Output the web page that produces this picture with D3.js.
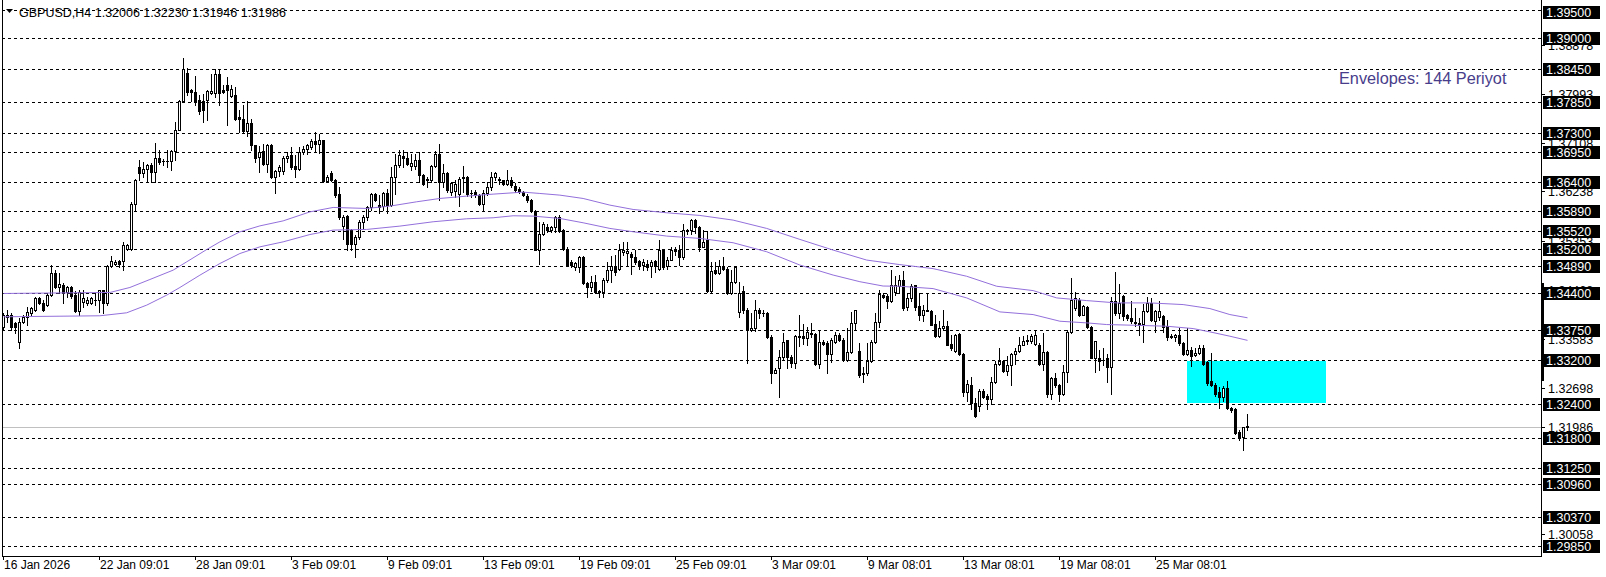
<!DOCTYPE html>
<html><head><meta charset="utf-8">
<script src="https://cdn.jsdelivr.net/npm/d3@7"></script>
<style>
body{margin:0;background:#fff;overflow:hidden}
svg{display:block}
text{font-family:"Liberation Sans",Arial,sans-serif;font-size:12.5px}
</style></head>
<body><svg id="c" width="1606" height="577"></svg>
<script>
// ---------- DATA ----------
const symbolTitle = "GBPUSD,H4";
const opens = [
1.3380,1.3398,1.3402,1.3386,1.3353,1.3389,1.3398,1.3404,1.3411,1.3431,
1.3423,1.3419,1.3437,1.3477,1.3452,1.3455,1.3443,1.3451,1.3437,1.3409,
1.3425,1.3423,1.3423,1.3429,1.3428,1.3446,1.3422,1.3489,1.3494,1.3498,
1.3499,1.3521,1.3520,1.3602,1.3668,1.3657,1.3665,1.3671,1.3659,1.3685,
1.3678,1.3679,1.3679,1.3697,1.3735,1.3787,1.3838,1.3806,1.3803,1.3788,
1.3787,1.3788,1.3802,1.3801,1.3836,1.3806,1.3815,1.3796,1.3797,1.3758,
1.3755,1.3733,1.3747,1.3707,1.3686,1.3696,1.3674,1.3707,1.3650,1.3660,
1.3661,1.3685,1.3689,1.3669,1.3665,1.3695,1.3700,1.3704,1.3714,1.3710,
1.3716,1.3643,1.3657,1.3645,1.3619,1.3561,1.3579,1.3554,1.3530,1.3541,
1.3569,1.3577,1.3595,1.3619,1.3599,1.3597,1.3621,1.3599,1.3649,1.3671,
1.3688,1.3685,1.3669,1.3669,1.3681,1.3653,1.3646,1.3644,1.3669,1.3692,
1.3641,1.3657,1.3623,1.3625,1.3619,1.3648,1.3649,1.3621,1.3623,1.3617,
1.3602,1.3621,1.3631,1.3649,1.3647,1.3644,1.3638,1.3644,1.3633,1.3629,
1.3623,1.3615,1.3609,1.3589,1.3519,1.3548,1.3559,1.3554,1.3559,1.3577,
1.3554,1.3521,1.3497,1.3488,1.3488,1.3506,1.3459,1.3451,1.3461,1.3445,
1.3443,1.3464,1.3482,1.3489,1.3485,1.3515,1.3513,1.3511,1.3506,1.3499,
1.3491,1.3493,1.3489,1.3499,1.3485,1.3518,1.3489,1.3501,1.3519,1.3518,
1.3505,1.3554,1.3555,1.3573,1.3560,1.3524,1.3536,1.3445,1.3482,1.3477,
1.3489,1.3485,1.3441,1.3461,1.3407,1.3445,1.3410,1.3375,1.3378,1.3411,
1.3404,1.3404,1.3362,1.3297,1.3305,1.3326,1.3356,1.3325,1.3315,1.3362,
1.3363,1.3359,1.3367,1.3367,1.3313,1.3353,1.3350,1.3331,1.3353,1.3365,
1.3357,1.3320,1.3335,1.3387,1.3337,1.3297,1.3296,1.3319,1.3353,1.3389,
1.3437,1.3435,1.3427,1.3443,1.3453,1.3464,1.3415,1.3432,1.3455,1.3417,
1.3402,1.3411,1.3409,1.3385,1.3363,1.3377,1.3381,1.3349,1.3336,1.3367,
1.3331,1.3263,1.3275,1.3243,1.3237,1.3264,1.3255,1.3249,1.3281,1.3313,
1.3319,1.3300,1.3311,1.3331,1.3336,1.3348,1.3354,1.3354,1.3349,1.3348,
1.3313,1.3335,1.3258,1.3287,1.3275,1.3258,1.3299,1.3371,1.3414,1.3429,
1.3402,1.3415,1.3379,1.3324,1.3323,1.3321,1.3323,1.3307,1.3426,1.3405,
1.3435,1.3401,1.3396,1.3387,1.3387,1.3385,1.3409,1.3423,1.3390,1.3397,
1.3399,1.3381,1.3363,1.3361,1.3366,1.3351,1.3331,1.3339,1.3329,1.3333,
1.3342,1.3317,1.3282,1.3275,1.3263,1.3253,1.3270,1.3234,1.3231,1.3191,
1.3181,1.32006];
const highs = [
1.3404,1.3410,1.3404,1.3389,1.3395,1.3401,1.3415,1.3416,1.3434,1.3433,
1.3428,1.3440,1.3491,1.3482,1.3476,1.3458,1.3453,1.3453,1.3445,1.3446,
1.3447,1.3433,1.3434,1.3440,1.3447,1.3447,1.3491,1.3507,1.3501,1.3501,
1.3533,1.3530,1.3605,1.3647,1.3680,1.3677,1.3674,1.3675,1.3711,1.3698,
1.3683,1.3699,1.3699,1.3749,1.3789,1.3865,1.3847,1.3809,1.3831,1.3797,
1.3800,1.3807,1.3835,1.3845,1.3845,1.3815,1.3830,1.3815,1.3812,1.3770,
1.3779,1.3787,1.3755,1.3708,1.3705,1.3710,1.3710,1.3709,1.3662,1.3671,
1.3687,1.3695,1.3704,1.3689,1.3704,1.3705,1.3709,1.3719,1.3731,1.3728,
1.3717,1.3653,1.3661,1.3647,1.3632,1.3581,1.3581,1.3557,1.3545,1.3572,
1.3581,1.3597,1.3621,1.3621,1.3617,1.3623,1.3629,1.3668,1.3692,1.3699,
1.3698,1.3695,1.3692,1.3692,1.3695,1.3656,1.3650,1.3671,1.3697,1.3710,
1.3674,1.3659,1.3641,1.3645,1.3650,1.3669,1.3651,1.3626,1.3626,1.3619,
1.3626,1.3641,1.3659,1.3659,1.3650,1.3645,1.3662,1.3649,1.3639,1.3632,
1.3625,1.3619,1.3611,1.3590,1.3569,1.3569,1.3565,1.3561,1.3579,1.3581,
1.3557,1.3524,1.3500,1.3497,1.3507,1.3507,1.3461,1.3471,1.3473,1.3447,
1.3467,1.3497,1.3507,1.3509,1.3530,1.3533,1.3533,1.3515,1.3518,1.3501,
1.3503,1.3500,1.3500,1.3500,1.3536,1.3519,1.3506,1.3524,1.3524,1.3527,
1.3565,1.3557,1.3575,1.3575,1.3561,1.3555,1.3553,1.3497,1.3497,1.3500,
1.3506,1.3488,1.3482,1.3489,1.3461,1.3453,1.3413,1.3404,1.3428,1.3413,
1.3411,1.3407,1.3365,1.3305,1.3338,1.3369,1.3357,1.3329,1.3365,1.3401,
1.3385,1.3380,1.3386,1.3368,1.3374,1.3356,1.3355,1.3359,1.3371,1.3368,
1.3359,1.3377,1.3407,1.3411,1.3350,1.3308,1.3350,1.3356,1.3404,1.3447,
1.3440,1.3439,1.3482,1.3471,1.3473,1.3481,1.3440,1.3457,1.3456,1.3441,
1.3420,1.3441,1.3411,1.3402,1.3390,1.3411,1.3390,1.3366,1.3367,1.3369,
1.3333,1.3285,1.3289,1.3252,1.3267,1.3267,1.3258,1.3289,1.3318,1.3341,
1.3321,1.3327,1.3333,1.3342,1.3361,1.3363,1.3365,1.3367,1.3375,1.3351,
1.3369,1.3336,1.3289,1.3297,1.3277,1.3312,1.3375,1.3467,1.3443,1.3432,
1.3419,1.3417,1.3381,1.3355,1.3339,1.3342,1.3331,1.3433,1.3479,1.3457,
1.3438,1.3403,1.3426,1.3414,1.3396,1.3421,1.3433,1.3432,1.3411,1.3426,
1.3402,1.3393,1.3367,1.3367,1.3377,1.3353,1.3377,1.3343,1.3342,1.3347,
1.3348,1.3319,1.3333,1.3279,1.3271,1.3273,1.3283,1.3236,1.3233,1.3194,
1.3200,1.32230];
const lows = [
1.3375,1.3389,1.3374,1.3368,1.3341,1.3386,1.3383,1.3401,1.3409,1.3421,
1.3409,1.3417,1.3435,1.3449,1.3440,1.3423,1.3434,1.3431,1.3407,1.3401,
1.3416,1.3419,1.3421,1.3419,1.3407,1.3404,1.3419,1.3487,1.3491,1.3488,
1.3482,1.3519,1.3519,1.3590,1.3644,1.3650,1.3641,1.3641,1.3641,1.3674,
1.3671,1.3668,1.3663,1.3680,1.3734,1.3785,1.3797,1.3787,1.3779,1.3764,
1.3749,1.3752,1.3800,1.3794,1.3779,1.3801,1.3743,1.3794,1.3752,1.3731,
1.3731,1.3723,1.3699,1.3677,1.3659,1.3671,1.3659,1.3648,1.3621,1.3651,
1.3656,1.3677,1.3665,1.3649,1.3662,1.3691,1.3692,1.3701,1.3695,1.3694,
1.3641,1.3641,1.3643,1.3614,1.3575,1.3539,1.3518,1.3519,1.3506,1.3539,
1.3557,1.3572,1.3591,1.3607,1.3585,1.3591,1.3585,1.3597,1.3620,1.3668,
1.3668,1.3671,1.3662,1.3665,1.3641,1.3635,1.3632,1.3641,1.3668,1.3609,
1.3632,1.3623,1.3617,1.3613,1.3597,1.3623,1.3615,1.3614,1.3613,1.3599,
1.3590,1.3617,1.3626,1.3644,1.3638,1.3635,1.3635,1.3632,1.3623,1.3621,
1.3615,1.3605,1.3587,1.3518,1.3493,1.3545,1.3551,1.3551,1.3551,1.3551,
1.3519,1.3489,1.3488,1.3483,1.3479,1.3457,1.3433,1.3445,1.3441,1.3434,
1.3433,1.3461,1.3461,1.3473,1.3483,1.3509,1.3491,1.3475,1.3494,1.3485,
1.3482,1.3483,1.3469,1.3479,1.3482,1.3485,1.3485,1.3500,1.3509,1.3491,
1.3503,1.3547,1.3548,1.3549,1.3517,1.3523,1.3443,1.3443,1.3475,1.3475,
1.3482,1.3439,1.3439,1.3459,1.3398,1.3404,1.3314,1.3373,1.3373,1.3395,
1.3399,1.3359,1.3279,1.3296,1.3253,1.3320,1.3305,1.3308,1.3305,1.3345,
1.3349,1.3347,1.3362,1.3311,1.3305,1.3347,1.3296,1.3317,1.3350,1.3355,
1.3319,1.3319,1.3332,1.3375,1.3290,1.3281,1.3293,1.3317,1.3351,1.3380,
1.3431,1.3413,1.3425,1.3437,1.3441,1.3410,1.3410,1.3426,1.3411,1.3393,
1.3391,1.3408,1.3383,1.3361,1.3361,1.3375,1.3347,1.3339,1.3335,1.3330,
1.3255,1.3246,1.3231,1.3217,1.3228,1.3251,1.3231,1.3240,1.3279,1.3312,
1.3299,1.3293,1.3275,1.3313,1.3335,1.3347,1.3349,1.3351,1.3347,1.3312,
1.3303,1.3253,1.3249,1.3271,1.3246,1.3257,1.3281,1.3369,1.3411,1.3399,
1.3401,1.3377,1.3323,1.3299,1.3303,1.3312,1.3281,1.3258,1.3401,1.3396,
1.3393,1.3393,1.3387,1.3381,1.3366,1.3353,1.3407,1.3390,1.3371,1.3393,
1.3371,1.3357,1.3359,1.3354,1.3348,1.3330,1.3329,1.3309,1.3327,1.3331,
1.3312,1.3275,1.3273,1.3255,1.3233,1.3246,1.3231,1.3227,1.3187,1.3176,
1.3158,1.31946];
const closes = [
1.3401,1.3402,1.3379,1.3379,1.3389,1.3398,1.3407,1.3413,1.3431,1.3422,
1.3410,1.3437,1.3477,1.3452,1.3457,1.3440,1.3451,1.3435,1.3409,1.3443,
1.3431,1.3429,1.3431,1.3429,1.3446,1.3422,1.3489,1.3499,1.3496,1.3494,
1.3527,1.3527,1.3602,1.3644,1.3657,1.3665,1.3671,1.3659,1.3685,1.3677,
1.3679,1.3678,1.3697,1.3735,1.3787,1.3845,1.3803,1.3803,1.3787,1.3768,
1.3770,1.3804,1.3804,1.3836,1.3801,1.3803,1.3806,1.3808,1.3755,1.3755,
1.3732,1.3747,1.3707,1.3685,1.3695,1.3674,1.3707,1.3650,1.3660,1.3668,
1.3685,1.3687,1.3668,1.3665,1.3695,1.3700,1.3707,1.3715,1.3710,1.3716,
1.3643,1.3649,1.3645,1.3617,1.3578,1.3578,1.3529,1.3529,1.3542,1.3569,
1.3578,1.3595,1.3619,1.3609,1.3595,1.3621,1.3599,1.3649,1.3671,1.3689,
1.3685,1.3674,1.3675,1.3681,1.3653,1.3638,1.3645,1.3669,1.3692,1.3641,
1.3657,1.3627,1.3639,1.3638,1.3647,1.3650,1.3619,1.3621,1.3617,1.3602,
1.3621,1.3631,1.3649,1.3657,1.3644,1.3638,1.3645,1.3635,1.3626,1.3625,
1.3617,1.3608,1.3589,1.3519,1.3548,1.3565,1.3554,1.3559,1.3577,1.3553,
1.3521,1.3491,1.3491,1.3495,1.3506,1.3458,1.3451,1.3461,1.3443,1.3443,
1.3465,1.3483,1.3489,1.3479,1.3518,1.3518,1.3517,1.3505,1.3497,1.3489,
1.3497,1.3487,1.3497,1.3489,1.3518,1.3488,1.3501,1.3519,1.3517,1.3505,
1.3555,1.3555,1.3573,1.3560,1.3524,1.3533,1.3445,1.3481,1.3477,1.3489,
1.3485,1.3440,1.3461,1.3488,1.3440,1.3410,1.3375,1.3378,1.3411,1.3404,
1.3405,1.3361,1.3297,1.3303,1.3326,1.3353,1.3325,1.3315,1.3363,1.3363,
1.3359,1.3371,1.3369,1.3313,1.3353,1.3349,1.3331,1.3356,1.3365,1.3357,
1.3320,1.3335,1.3387,1.3410,1.3293,1.3295,1.3319,1.3353,1.3389,1.3439,
1.3434,1.3427,1.3455,1.3455,1.3464,1.3413,1.3431,1.3453,1.3415,1.3402,
1.3411,1.3409,1.3384,1.3363,1.3377,1.3381,1.3348,1.3341,1.3366,1.3331,
1.3263,1.3276,1.3243,1.3219,1.3264,1.3253,1.3249,1.3281,1.3313,1.3319,
1.3300,1.3311,1.3331,1.3336,1.3348,1.3355,1.3357,1.3363,1.3365,1.3313,
1.3335,1.3258,1.3288,1.3275,1.3258,1.3299,1.3371,1.3429,1.3431,1.3402,
1.3417,1.3379,1.3324,1.3354,1.3319,1.3320,1.3307,1.3426,1.3405,1.3423,
1.3399,1.3395,1.3390,1.3388,1.3383,1.3409,1.3423,1.3393,1.3408,1.3408,
1.3379,1.3361,1.3362,1.3366,1.3351,1.3331,1.3339,1.3327,1.3333,1.3342,
1.3313,1.3279,1.3275,1.3258,1.3253,1.3270,1.3233,1.3230,1.3189,1.3179,
1.3200,1.31986];

// Envelopes (144): knots, [bar index], price
const upperIdx = [0,26.6,31.6,36.6,42.4,45.8,50.8,54.1,59.1,64.1,69.9,76.6,82.4,90.8,96.6,103.3,109.1,115.8,122.4,127.4,129.9,134.1,139.1,144.9,151.6,157.4,165.8,174.1,182.4,190.8,199.1,207.4,215.8,224.1,232.4,240.8,248.3,257.4,263.3,270.8,278.3,286.6,294.9,301.6,306.6,311];
const upperVal = [1.3440,1.34418,1.34508,1.34652,1.3482,1.3497,1.35192,1.3533,1.3551,1.35618,1.35708,1.3587,1.3595,1.35932,1.35974,1.36052,1.36112,1.36154,1.3619,1.36214,1.36226,1.36202,1.36172,1.36112,1.35992,1.35914,1.35854,1.35806,1.35722,1.35572,1.35374,1.35182,1.35002,1.3492,1.34848,1.3471,1.3453,1.34452,1.3432,1.34272,1.3423,1.3423,1.342,1.34128,1.3402,1.33962];
const lowerIdx = [0,24.1,30.8,35.8,40.8,44.1,49.1,54.1,59.1,64.1,69.9,76.6,82.4,90.8,99.1,107.4,115.8,122.4,127.4,132.4,139.1,144.9,151.6,157.4,165.8,174.1,182.4,190.8,199.1,207.4,214.1,219.9,224.1,232.4,240.8,249.1,257.4,264.1,270.8,275.8,282.4,290.8,297.4,301.6,306.6,311];
const lowerVal = [1.3398,1.33998,1.34052,1.3419,1.3437,1.34508,1.3473,1.3494,1.3512,1.3524,1.3533,1.35462,1.35542,1.35554,1.35614,1.35692,1.35746,1.35764,1.358,1.35794,1.35752,1.35674,1.35572,1.35512,1.35434,1.35392,1.35314,1.35152,1.34912,1.34732,1.34612,1.34534,1.3453,1.34488,1.3432,1.34068,1.3402,1.339,1.3387,1.3384,1.33828,1.3381,1.33768,1.33708,1.3363,1.33555];

// horizontal levels (dashed, boxed labels)
const levels = [1.39500,1.39000,1.38450,1.37850,1.37300,1.36950,1.36400,1.35890,1.35520,1.35200,1.34890,1.34400,1.33750,1.33200,1.32400,1.31800,1.31250,1.30960,1.30370,1.29850];
// price-axis grid labels
const axisTicks = [1.38878,1.37993,1.37108,1.36238,1.35353,1.34468,1.33583,1.32698,1.30058];
// time axis
const timeLabels = ["16 Jan 2026","22 Jan 09:01","28 Jan 09:01","3 Feb 09:01","9 Feb 09:01","13 Feb 09:01","19 Feb 09:01","25 Feb 09:01","3 Mar 09:01","9 Mar 08:01","13 Mar 08:01","19 Mar 08:01","25 Mar 08:01"];
const timeLabelBars = [0,24,48,72,96,120,144,168,192,216,240,264,288];
// rectangle zone [from bar, to bar] x [top price, bottom price]
const zoneBars = [295.9, 330.7];
const zonePrices = [1.3320, 1.32445];
const indicatorLabel = "Envelopes: 144 Periyot";

// ---------- LAYOUT ----------
const L = 2, R = 1541, T = 0, B = 556;
const svg = d3.select("#c");
const x = d3.scaleLinear().domain([0, 311]).range([3.5, 1247.5]);
const y = d3.scaleLinear().domain([1.3845, 1.2985]).range([68.7, 546]);
const ry = p => Math.round(y(p));

svg.append("rect").attr("width",1606).attr("height",577).attr("fill","#fff");
const defs = svg.append("defs");
defs.append("clipPath").attr("id","plot").append("rect").attr("x",L).attr("y",T).attr("width",R-L).attr("height",B-T);
const plot = svg.append("g").attr("clip-path","url(#plot)").attr("shape-rendering","crispEdges");

// zone
plot.append("rect")
  .attr("x", Math.round(x(zoneBars[0]))).attr("width", Math.round(x(zoneBars[1])) - Math.round(x(zoneBars[0])))
  .attr("y", ry(zonePrices[0])+1).attr("height", ry(zonePrices[1]) - ry(zonePrices[0]))
  .attr("fill","#00ffff");

// current price line
const last = closes.length - 1;
plot.append("line").attr("x1",L).attr("x2",R).attr("y1",ry(closes[last])+0.5).attr("y2",ry(closes[last])+0.5)
  .attr("stroke","#c0c0c0").attr("stroke-width",1);

// dashed levels
plot.selectAll("line.lvl").data(levels).join("line").attr("class","lvl")
  .attr("x1",L).attr("x2",R).attr("y1",d=>ry(d)+0.5).attr("y2",d=>ry(d)+0.5)
  .attr("stroke","#000").attr("stroke-width",1).attr("stroke-dasharray","3,3");

// candles
const idx = d3.range(opens.length);
const cg = plot.append("g");
cg.selectAll("line.w").data(idx).join("line").attr("class","w")
  .attr("x1",i=>x(i)).attr("x2",i=>x(i))
  .attr("y1",i=>ry(highs[i])).attr("y2",i=>ry(lows[i])+1)
  .attr("stroke","#000").attr("stroke-width",1);
cg.selectAll("rect.b").data(idx).join("rect").attr("class","b")
  .each(function(i){
    const o = ry(opens[i]), c = ry(closes[i]);
    const s = d3.select(this);
    if (closes[i] >= opens[i]) {
      const h = o - c;
      if (h < 1) {
        s.attr("x",x(i)-1.5).attr("y",c).attr("width",3).attr("height",1).attr("fill","#000");
      } else {
        s.attr("x",x(i)-1).attr("y",c+0.5).attr("width",2).attr("height",h)
         .attr("fill","#fff").attr("stroke","#000").attr("stroke-width",1);
      }
    } else {
      s.attr("x",x(i)-1.5).attr("y",o).attr("width",3).attr("height",Math.max(1,c-o+1)).attr("fill","#000");
    }
  });

// envelopes
const envLine = d3.line().x(d=>x(d[0])).y(d=>y(d[1]));
const envColor = "#9370db";
const ug = svg.append("g").attr("clip-path","url(#plot)");
ug.append("path").attr("d", envLine(upperIdx.map((d,k)=>[d,upperVal[k]]))).attr("fill","none").attr("stroke",envColor).attr("stroke-width",1);
ug.append("path").attr("d", envLine(lowerIdx.map((d,k)=>[d,lowerVal[k]]))).attr("fill","none").attr("stroke",envColor).attr("stroke-width",1);

// frame
const fr = svg.append("g").attr("shape-rendering","crispEdges");
fr.append("line").attr("x1",L+0.5).attr("x2",L+0.5).attr("y1",T).attr("y2",B).attr("stroke","#000");
fr.append("line").attr("x1",R+0.5).attr("x2",R+0.5).attr("y1",T).attr("y2",B+1).attr("stroke","#000");
fr.append("line").attr("x1",L).attr("x2",R+1).attr("y1",B+0.5).attr("y2",B+0.5).attr("stroke","#000");
fr.append("rect").attr("x",R).attr("y",283).attr("width",3).attr("height",98).attr("fill","#000");

// price axis ticks
const ax = svg.append("g");
ax.selectAll("line.t").data(axisTicks.concat([closes[last]])).join("line").attr("class","t")
  .attr("shape-rendering","crispEdges")
  .attr("x1",R).attr("x2",R+4).attr("y1",d=>ry(d)+0.5).attr("y2",d=>ry(d)+0.5).attr("stroke","#000");
ax.selectAll("text.t").data(axisTicks).join("text").attr("class","t")
  .attr("x",R+7).attr("y",d=>ry(d)+4.5).attr("fill","#000").text(d=>d.toFixed(5));
ax.append("text").attr("x",R+7).attr("y",ry(closes[last])+4.5).attr("fill","#000").text(closes[last].toFixed(5));

// boxed level labels
const lb = svg.append("g");
levels.forEach(p=>{
  const yy = Math.max(12, ry(p));
  lb.append("rect").attr("x",R+2).attr("y",yy-6).attr("width",57).attr("height",13).attr("fill","#000").attr("shape-rendering","crispEdges");
  lb.append("text").attr("x",R+5).attr("y",yy+4.5).attr("fill","#fff").text(p.toFixed(5));
});

// time axis
const tx = svg.append("g");
tx.selectAll("line").data(timeLabelBars).join("line").attr("shape-rendering","crispEdges")
  .attr("x1",i=>Math.floor(x(i))+0.5).attr("x2",i=>Math.floor(x(i))+0.5).attr("y1",B).attr("y2",B+4).attr("stroke","#000");
tx.selectAll("text").data(timeLabelBars).join("text").style("font-size","12px")
  .attr("x",i=>Math.floor(x(i))+1).attr("y",B+13).attr("fill","#000").text((d,k)=>timeLabels[k]);

// title
svg.append("path").attr("d","M6,9 L13,9 L9.5,13 Z").attr("fill","#000");
svg.append("text").attr("x",19).attr("y",16.5).attr("fill","#000")
  .text(`${symbolTitle}  ${opens[last].toFixed(5)} ${highs[last].toFixed(5)} ${lows[last].toFixed(5)} ${closes[last].toFixed(5)}`);

// indicator label
svg.append("text").attr("x",1339).attr("y",84).attr("fill","#483d8b").style("font-size","16.3px").text(indicatorLabel);
</script>
</body></html>
